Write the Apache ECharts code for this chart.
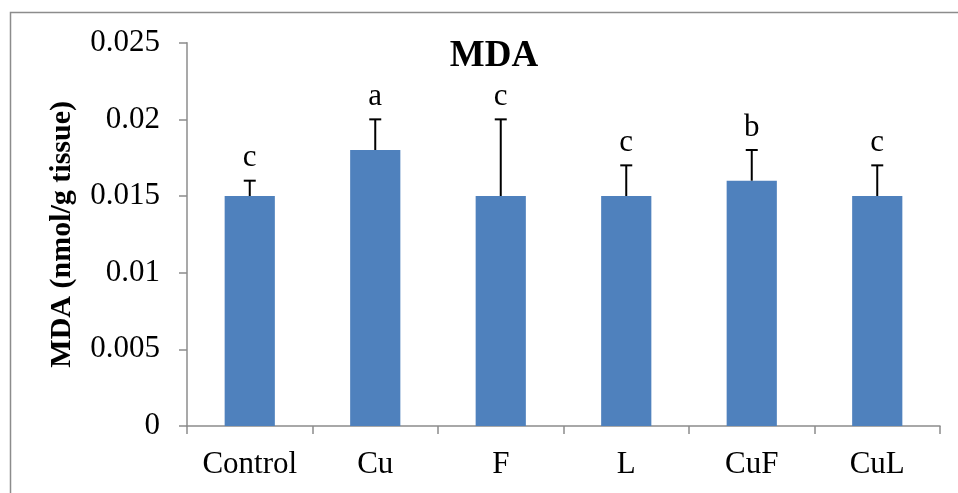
<!DOCTYPE html>
<html><head><meta charset="utf-8">
<script src="https://cdn.jsdelivr.net/npm/echarts@6/dist/echarts.min.js"></script>
<style>html,body{margin:0;padding:0;background:#fff}#c{width:958px;height:493px}</style>
</head><body><div id="c"></div>
<script>
const categories = ['Control','Cu','F','L','CuF','CuL'];
const means = [0.015, 0.018, 0.015, 0.015, 0.016, 0.015];
const errUpper = [0.016, 0.020, 0.020, 0.017, 0.018, 0.017];
const letters = ['c','a','c','c','b','c'];
const yTicks = [0, 0.005, 0.01, 0.015, 0.02, 0.025];

const font = '"Liberation Serif","Times New Roman",serif';
const chart = echarts.init(document.getElementById('c'));
const errData = categories.map((c,i)=>[i, means[i], errUpper[i], letters[i]]);
chart.setOption({
  animation:false,
  title:{text:'MDA', left:489, textAlign:'center', top:33,
    textStyle:{fontFamily:font, fontWeight:'bold', fontSize:37, color:'#000'}},
  graphic:[{type:'rect', shape:{x:10.5,y:12.5,width:960,height:500},
    style:{fill:'none', stroke:'#8c8c8c', lineWidth:1.5}, silent:true}],
  grid:{left:187, right:18, top:42.7, bottom:67},
  xAxis:{type:'category', data:categories,
    axisLine:{lineStyle:{color:'#8c8c8c', width:1.5}},
    axisTick:{show:true, length:8, alignWithLabel:false, lineStyle:{color:'#8c8c8c', width:1.5}},
    axisLabel:{fontFamily:font, fontSize:31, color:'#000', margin:23}},
  yAxis:{type:'value', min:0, max:0.025, interval:0.005,
    name:'MDA (nmol/g tissue)', nameLocation:'middle', nameGap:110,
    nameTextStyle:{fontFamily:font, fontWeight:'bold', fontSize:30, color:'#000'},
    axisLine:{show:true, lineStyle:{color:'#8c8c8c', width:1.5}},
    axisTick:{show:true, length:8, lineStyle:{color:'#8c8c8c', width:1.5}},
    splitLine:{show:false},
    axisLabel:{fontFamily:font, fontSize:31, color:'#000', margin:27,
      formatter:v=>{const t=yTicks.find(x=>Math.abs(x-v)<1e-9); return t===undefined?'':String(t);}}},
  series:[
    {type:'bar', data:means, barWidth:'40%', itemStyle:{color:'#4F81BD'}},
    {type:'custom', data:errData, z:10,
      renderItem:(params, api)=>{
        const x = api.coord([api.value(0), api.value(1)]);
        const top = api.coord([api.value(0), api.value(2)]);
        const cap = 6;
        return {type:'group', children:[
          {type:'line', shape:{x1:x[0],y1:x[1],x2:top[0],y2:top[1]}, style:{stroke:'#000', lineWidth:2}},
          {type:'line', shape:{x1:top[0]-cap,y1:top[1],x2:top[0]+cap,y2:top[1]}, style:{stroke:'#000', lineWidth:2}},
          {type:'text', x:top[0], y:top[1]-7, style:{text:letters[params.dataIndex], fontFamily:font, fontSize:31, fill:'#000', align:'center', verticalAlign:'bottom'}}
        ]};
      }}
  ]
});
</script></body></html>
